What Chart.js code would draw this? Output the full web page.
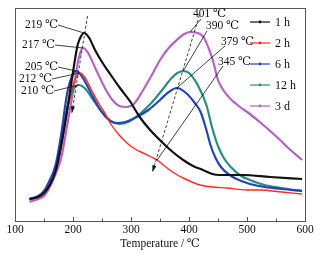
<!DOCTYPE html>
<html>
<head>
<meta charset="utf-8">
<script src="https://cdn.jsdelivr.net/npm/chart.js@4"></script>
<style>
  html, body { margin: 0; padding: 0; background: #fff; }
  #wrap { width: 325px; height: 257px; }
</style>
</head>
<body>
<div id="wrap"><canvas id="c" width="325" height="257"></canvas></div>
<script>
// series names
const series_names = ['1 h', '2 h', '6 h', '12 h', '3 d'];
const series_colors = ['#111111', '#ff2a1f', '#2346b4', '#2a8c84', '#b462c4'];

// temperature (℃) / signal (arbitrary units)
const t_1h = [125, 140, 150, 160, 170, 180, 190, 200, 208, 214, 219, 228, 238, 250, 264, 281, 298, 315, 333, 355, 372, 390, 407, 424, 440, 453, 493, 540, 595];
const v_1h = [22, 24, 28, 36, 50, 77, 111, 149, 176, 185, 188, 183, 171, 159, 147, 133, 120, 104, 91, 78, 69, 61, 55, 51, 47, 46, 46, 44, 42];

const t_2h = [125, 140, 150, 160, 170, 180, 190, 200, 205, 212, 220, 232, 245, 255, 264, 278, 293, 307, 321, 335, 345, 356, 367, 380, 390, 405, 419, 440, 465, 500, 522, 560, 595];
const v_2h = [21, 24, 27, 35, 49, 74, 109, 136, 143, 148, 144, 131, 117, 108, 98, 87, 78, 72, 68, 64, 61, 56, 51, 46, 43, 39, 36, 34, 33, 31, 31, 29, 27];

const t_6h = [125, 140, 150, 160, 170, 180, 190, 200, 205, 215, 230, 245, 260, 275, 290, 310, 330, 350, 365, 379, 395, 410, 420, 430, 437, 445, 455, 470, 490, 520, 560, 595];
const v_6h = [22, 25, 30, 41, 56, 88, 128, 147, 150, 145, 129, 113, 102, 98, 99, 104, 111, 121, 129, 133, 128, 118, 109, 91, 76, 64, 54, 46, 40, 35, 32, 30];

const t_12h = [125, 140, 150, 160, 170, 180, 190, 200, 210, 220, 235, 250, 265, 280, 295, 315, 335, 355, 370, 380, 390, 400, 415, 430, 440, 450, 460, 472, 490, 505, 530, 560, 595];
const v_12h = [22, 24, 28, 37, 51, 79, 113, 131, 136, 133, 121, 109, 100, 97, 99, 107, 118, 132, 143, 148, 150, 148, 136, 116, 93, 75, 63, 54, 45, 41, 36, 33, 30];

const t_3d = [125, 140, 150, 160, 170, 180, 190, 200, 210, 217, 225, 240, 255, 268, 280, 292, 305, 321, 335, 350, 365, 379, 392, 402, 415, 425, 435, 441, 450, 459, 470, 488, 505, 522, 540, 557, 575, 595];
const v_3d = [19, 22, 25, 34, 47, 64, 96, 129, 163, 173, 169, 151, 133, 121, 115, 114, 117, 131, 145, 161, 173, 181, 187, 189, 188, 184, 171, 161, 141, 131, 123, 114, 107, 99, 90, 81, 71, 61];

const x_ticks = [100, 200, 300, 400, 500, 600];

// peak labels: [text, point temp, point value, label end x, label y]
const left_labels = [
    ['219 ℃', 219, 188, 58, 25],
    ['217 ℃', 217, 173, 55, 45],
    ['205 ℃', 205, 150, 58, 67],
    ['212 ℃', 212, 148, 52, 79],
    ['210 ℃', 210, 136, 54, 91]
];
// [text, point temp, point value, leader x, leader y, text x, text y]
const right_labels = [
    ['401 ℃', 402, 189, 201, 19, 193, 14],
    ['390 ℃', 390, 150, 207, 31, 206, 26],
    ['379 ℃', 379, 133, 225, 46, 221, 42],
    ['345 ℃', 345, 61, 223, 66, 218, 62]
];

const all_t = [t_1h, t_2h, t_6h, t_12h, t_3d];
const all_v = [v_1h, v_2h, v_6h, v_12h, v_3d];

let datasets = [];
for (let i = 0; i < series_names.length; i++) {
    let pts = [];
    for (let j = 0; j < all_t[i].length; j++) {
        pts.push({x: all_t[i][j], y: all_v[i][j]});
    }
    datasets.push({
        label: series_names[i],
        data: pts,
        borderColor: series_colors[i],
        backgroundColor: series_colors[i],
        borderWidth: i == 1 ? 1.4 : 2.2,
        pointRadius: 0,
        cubicInterpolationMode: 'monotone',
        fill: false
    });
}

const serif = '"Liberation Serif", "DejaVu Serif", serif';

const decor = {
    id: 'decor',
    afterDatasetsDraw(chart) {
        const ctx = chart.ctx;
        const xs = chart.scales.x;
        const ys = chart.scales.y;
        const a = chart.chartArea;
        ctx.save();

        // frame
        ctx.strokeStyle = '#555';
        ctx.lineWidth = 1;
        ctx.strokeRect(a.left + 0.5, a.top + 0.5, a.right - a.left, a.bottom - a.top);

        // ticks pointing in
        for (let v = 100; v <= 600; v += 50) {
            let px = Math.round(xs.getPixelForValue(v)) + 0.5;
            let len = v % 100 == 0 ? 4 : 2.5;
            ctx.beginPath();
            ctx.moveTo(px, a.bottom);
            ctx.lineTo(px, a.bottom - len);
            ctx.stroke();
        }

        ctx.font = '11.5px ' + serif;
        ctx.fillStyle = '#111';
        ctx.textBaseline = 'middle';
        ctx.strokeStyle = '#111';
        ctx.lineWidth = 0.8;

        // left peak labels
        ctx.textAlign = 'right';
        for (let l of left_labels) {
            let px = xs.getPixelForValue(l[1]);
            let py = ys.getPixelForValue(l[2]);
            ctx.fillText(l[0], l[3], l[4]);
            ctx.beginPath();
            ctx.moveTo(l[3], l[4]);
            ctx.lineTo(px, py);
            ctx.stroke();
        }

        // right peak labels
        ctx.textAlign = 'left';
        for (let l of right_labels) {
            let px = xs.getPixelForValue(l[1]);
            let py = ys.getPixelForValue(l[2]);
            ctx.fillText(l[0], l[5], l[6]);
            ctx.beginPath();
            ctx.moveTo(l[3], l[4]);
            ctx.lineTo(px, py);
            ctx.stroke();
        }

        // dashed arrows through the peaks
        function arrow(x1, y1, x2, y2) {
            ctx.setLineDash([3, 2]);
            ctx.beginPath();
            ctx.moveTo(x1, y1);
            ctx.lineTo(x2, y2);
            ctx.stroke();
            ctx.setLineDash([]);
            let ang = Math.atan2(y2 - y1, x2 - x1);
            ctx.beginPath();
            ctx.moveTo(x2, y2);
            ctx.lineTo(x2 - 7 * Math.cos(ang - 0.3), y2 - 7 * Math.sin(ang - 0.3));
            ctx.lineTo(x2 - 7 * Math.cos(ang + 0.3), y2 - 7 * Math.sin(ang + 0.3));
            ctx.closePath();
            ctx.fill();
        }
        arrow(xs.getPixelForValue(225), ys.getPixelForValue(205), xs.getPixelForValue(198), ys.getPixelForValue(108));
        arrow(xs.getPixelForValue(418), ys.getPixelForValue(206), xs.getPixelForValue(337), ys.getPixelForValue(49));

        // legend
        ctx.font = '12px ' + serif;
        for (let i = 0; i < series_names.length; i++) {
            let ly = [22, 43, 64, 85, 106][i];
            ctx.strokeStyle = series_colors[i];
            ctx.fillStyle = series_colors[i];
            ctx.lineWidth = 1.2;
            ctx.beginPath();
            ctx.moveTo(250, ly);
            ctx.lineTo(270, ly);
            ctx.stroke();
            ctx.beginPath();
            ctx.arc(260, ly, 1.4, 0, Math.PI * 2);
            ctx.fill();
            ctx.fillStyle = '#111';
            ctx.fillText(series_names[i], 275, ly + 0.5);
        }
        ctx.restore();
    }
};

new Chart(document.getElementById('c'), {
    type: 'line',
    data: {datasets: datasets},
    options: {
        responsive: false,
        animation: false,
        events: [],
        layout: {padding: {left: 15, right: 20, top: 8, bottom: 6}},
        plugins: {legend: {display: false}, tooltip: {enabled: false}},
        scales: {
            x: {
                type: 'linear',
                min: 100,
                max: 600,
                afterBuildTicks: (s) => { s.ticks = x_ticks.map(v => ({value: v})); },
                afterFit: (s) => { s.height = 30; },
                grid: {display: false, drawTicks: false},
                border: {display: false},
                ticks: {padding: 2, maxRotation: 0, color: '#111', font: {family: serif, size: 11.5}},
                title: {display: true, text: 'Temperature / ℃', color: '#111', padding: {top: 0, bottom: 0}, font: {family: serif, size: 11.5}}
            },
            y: {
                display: false,
                min: 0,
                max: 213
            }
        }
    },
    plugins: [decor]
});
</script>
</body>
</html>
